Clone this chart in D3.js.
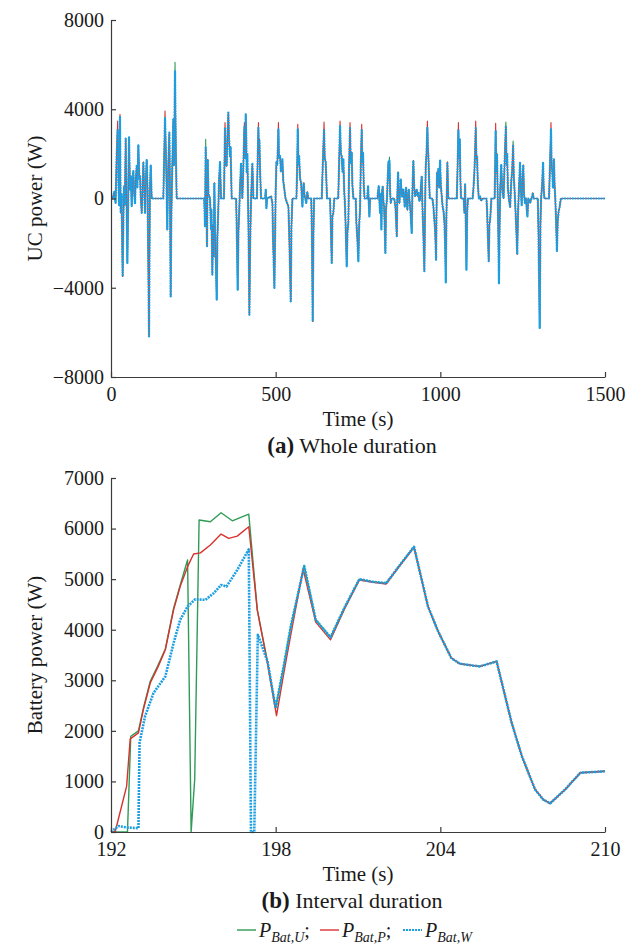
<!DOCTYPE html>
<html>
<head>
<meta charset="utf-8">
<script src="https://cdn.jsdelivr.net/npm/d3@7"></script>
<style>
  html, body { margin: 0; padding: 0; background: #fff; }
  svg { display: block; }
  text { font-family: "Liberation Serif", "Times New Roman", serif; fill: #1a1a1a; }
</style>
</head>
<body>
<svg id="fig" width="642" height="948"></svg>
<script>
// ---------- (a) UC power over the whole drive cycle ----------
const ucTime = [
  0, 5, 10, 14, 17, 20.2, 23, 25, 27.3, 29.4,
  32, 35.4, 38, 39.6, 42, 44.6, 47, 49.7, 52, 54.7,
  57.8, 60, 62.8, 65, 67.9, 70, 73, 75, 78, 80,
  83.1, 86, 88.2, 90, 93.2, 96, 98.3, 100, 103.4, 106,
  108.4, 111, 115.5, 118, 120.6, 123.6, 158.9, 161, 164, 166,
  168, 171, 173, 175, 177.2, 179, 181.2, 183, 186.3, 188,
  189.3, 191, 192.5, 194.4, 197, 199.4, 283, 285.5, 287.5, 289,
  291.5, 293.6, 296, 300.7, 303.7, 305, 307.8, 310, 312, 313.9,
  316, 318, 321, 323, 326.1, 328, 331.1, 334.2, 343, 346.2,
  348, 351.3, 353, 356.4, 358, 361.4, 363, 366.5, 380, 382,
  384.7, 387, 389.8, 392, 394.8, 398.9, 402, 405, 407, 409.1,
  411, 412.1, 414, 417.2, 418.5, 420.2, 422.5, 425.3, 427, 429.3,
  432.4, 443, 445, 447.6, 449, 450.6, 452.5, 455.7, 468, 469.9,
  471.9, 474, 486.1, 490.2, 492, 496.2, 498.5, 500, 502.3, 505,
  508.4, 510, 513.4, 516, 520.5, 523, 526.6, 530, 538.7, 541,
  545.8, 548, 550.9, 563, 565, 567.1, 569, 571.2, 574, 577.3,
  579, 581.3, 583, 585.4, 587, 590, 593, 596, 599, 608,
  610, 612.5, 614.5, 616.6, 640, 643, 646.9, 649, 651.9, 654,
  656, 665, 667.5, 670.2, 672.5, 675.2, 678, 690, 693, 695.5,
  698, 700.5, 703, 705.6, 708, 710.7, 713, 715.7, 718, 720.8,
  723, 725.8, 728, 730.9, 733, 736, 743, 745.1, 748, 751.2,
  753.5, 756.2, 758.5, 761.3, 763, 765.3, 767.5, 770, 778, 780.6,
  784.6, 787, 809, 811, 813, 815, 817, 819, 821.1, 823,
  825.1, 827, 829.2, 831, 833.2, 835, 838, 840, 842.4, 844,
  845.4, 847.5, 849.5, 852, 860, 863.6, 865.5, 867.7, 869.5, 871.7,
  873.5, 875.8, 877.5, 879.8, 882, 883.9, 885.5, 887.9, 890, 892,
  894, 896, 898, 900.1, 902, 904.2, 906, 908.1, 910, 913.1,
  915.5, 918.2, 920.5, 923.3, 925.5, 928.3, 931, 933.4, 936, 938.5,
  941, 943.5, 946, 948.6, 951.6, 953.5, 955.7, 958, 960.7, 962.3,
  963.8, 966, 968, 976, 979, 981.5, 984.1, 987.1, 988.5, 990.1,
  992, 994.2, 996.5, 999.3, 1001.5, 1004.3, 1007, 1010, 1012.4, 1014.5,
  1016.5, 1018.5, 1021.5, 1024, 1050, 1052.5, 1054.9, 1056.5, 1058.9, 1061,
  1063, 1071, 1073.2, 1075.2, 1077, 1079.3, 1081.5, 1084, 1098, 1100.3,
  1103.4, 1105.5, 1107.4, 1109.5, 1111.5, 1114, 1117, 1120.6, 1124, 1128,
  1140, 1141.9, 1144, 1146.9, 1149, 1152, 1155, 1165, 1166.5, 1168,
  1170, 1172, 1174, 1176, 1178, 1180, 1182, 1185, 1188, 1192,
  1195, 1199, 1201, 1203, 1205, 1208, 1212, 1214, 1216, 1218,
  1221, 1223, 1226, 1229, 1231, 1233.5, 1236, 1239, 1242, 1245,
  1247, 1249, 1252, 1254, 1257, 1260, 1262.5, 1264.5, 1267, 1273,
  1276, 1279, 1281, 1283, 1296, 1298, 1301.7, 1304, 1306, 1309,
  1312, 1314, 1316, 1330, 1333, 1336, 1338, 1340, 1342, 1345,
  1347, 1349, 1351, 1354, 1356.5, 1359, 1362, 1366, 1500
];

// UC power with the W-strategy (W)
const ucW = [
  0, 0, 300, -200, 1800, 3100, 500, -300, 3650, -643,
  200, -3490, -600, 550, -300, 2680, 200, -2890, -400, 2740,
  400, 1000, -340, 600, 1230, 300, -210, 800, 1450, 500,
  2380, 900, 1000, 200, -640, 500, 1630, 800, -640, 900,
  1720, 400, -6180, 300, 1480, 0, 0, 1500, 3600, 2500,
  1200, -1390, 800, 2000, 2950, 500, -4390, -1000, 1600, 2600,
  3550, 1500, 3000, 5700, 2000, 0, 0, -1240, 2280, 800,
  -2140, 1750, 200, 0, -1390, -500, -3410, -1200, -2600, 700,
  -1500, -2590, -4530, -1800, -360, 800, 1630, 0, 0, 3170,
  1500, 1450, 2500, 3850, 2800, 1900, 2300, 0, 0, -1500,
  -4090, -1500, -360, 600, 1550, 0, 1500, 3200, 1800, 3770,
  2500, 1180, 2000, -1060, -2500, -5210, -2000, -60, 700, 1550,
  0, 0, 1500, 3170, 2000, 2650, 1300, 0, 0, 390,
  -430, 0, 90, -210, -1800, -4010, -1500, 300, 1630, 1500,
  3100, 1800, 1900, 1200, 1750, 800, 390, 0, -360, -1500,
  -4610, -1200, 0, 0, 1200, 3100, 1500, 1900, 900, 700,
  200, -360, 300, 700, 200, 0, -200, 300, 0, 0,
  -1500, -5510, -1800, 0, 0, 1500, 3100, 1800, 1630, 800,
  0, 0, -1200, -2890, -800, -640, 0, 0, 1800, 3250,
  2000, 1900, 1200, 1750, 400, -360, -1500, -3040, -1500, -1060,
  1500, 3150, 1600, 2050, 600, 0, 0, -1060, -1800, -2810,
  -1200, -510, 1500, 3100, 1600, 2050, 600, 0, 0, 550,
  -800, 0, 0, 300, 550, -100, -640, 200, -1390, 300,
  550, -100, -360, -1200, -2440, -500, 0, 800, 1630, 900,
  1700, 300, -210, 0, 0, -360, -900, -1690, 200, 1180,
  300, -210, 300, 850, 200, 90, 400, 390, 0, -360,
  200, 480, -100, -510, 200, 390, 0, -360, -700, -1540,
  500, 1700, 500, 90, 300, 390, 100, 240, -100, -60,
  500, 1000, -500, -1690, -3260, -500, 1450, 2000, 3170, 2200,
  1900, 800, 0, 0, -360, -900, -1390, -2740, -500, 1180,
  600, 1330, 500, 1700, 600, 90, -360, -600, -1060, -2000,
  -3760, -800, 1630, 0, 0, 1500, 3100, 1800, 2650, 800,
  0, 0, -640, 630, -800, -3190, -600, 0, 0, 390,
  1180, 2000, 3150, 1800, 1900, 600, 0, 90, -100, 0,
  0, -510, -1500, -2810, -1200, -800, 0, 0, 1500, 3050,
  1200, 2000, 300, -1500, -3800, -1200, 500, 1500, 400, 0,
  1500, 3250, 1500, 2000, 500, 0, -400, 300, 900, 1200,
  2400, 1000, 200, -800, -1500, -2500, -600, 500, 1600, 300,
  -300, 800, 1500, 200, -200, 0, -500, -800, 0, -200,
  0, 100, 250, 0, 0, -1500, -5800, -1200, 0, 600,
  1600, 400, 0, 0, 1500, 3100, 1500, 1200, 500, 1750,
  600, 0, -800, -2350, -1000, -600, -400, 0, 0
];

// UC power with the P-strategy (P)
const ucP = [
  0, 0, 300, -200, 1800, 3470, 500, -300, 3770, -643,
  200, -3490, -600, 550, -300, 2680, 200, -2890, -400, 2740,
  400, 1000, -340, 600, 1230, 300, -210, 800, 1450, 500,
  2380, 900, 1000, 200, -640, 500, 1630, 800, -640, 900,
  1720, 400, -6180, 300, 1480, 0, 0, 1500, 3920, 2500,
  1200, -1390, 800, 2000, 2950, 500, -4390, -1000, 1600, 2600,
  3550, 1500, 3000, 5650, 2000, 0, 0, -1240, 2280, 800,
  -2140, 1750, 200, 0, -1390, -500, -3410, -1200, -2600, 700,
  -1500, -2590, -4530, -1800, -360, 800, 1630, 0, 0, 3400,
  1500, 1450, 2500, 3850, 2800, 1900, 2300, 0, 0, -1500,
  -4090, -1500, -360, 600, 1550, 0, 1500, 3400, 1800, 3770,
  2500, 1180, 2000, -1060, -2500, -5210, -2000, -60, 700, 1550,
  0, 0, 1500, 3400, 2000, 2650, 1300, 0, 0, 390,
  -430, 0, 90, -210, -1800, -4010, -1500, 300, 1630, 1500,
  3400, 1800, 1900, 1200, 1750, 800, 390, 0, -360, -1500,
  -4610, -1200, 0, 0, 1200, 3320, 1500, 1900, 900, 700,
  200, -360, 300, 700, 200, 0, -200, 300, 0, 0,
  -1500, -5510, -1800, 0, 0, 1500, 3430, 1800, 1630, 800,
  0, 0, -1200, -2890, -800, -640, 0, 0, 1800, 3470,
  2000, 1900, 1200, 1750, 400, -360, -1500, -3040, -1500, -1060,
  1500, 3400, 1600, 2050, 600, 0, 0, -1060, -1800, -2810,
  -1200, -510, 1500, 3320, 1600, 2050, 600, 0, 0, 550,
  -800, 0, 0, 300, 550, -100, -640, 200, -1390, 300,
  550, -100, -360, -1200, -2440, -500, 0, 800, 1630, 900,
  1700, 300, -210, 0, 0, -360, -900, -1690, 200, 1180,
  300, -210, 300, 850, 200, 90, 400, 390, 0, -360,
  200, 480, -100, -510, 200, 390, 0, -360, -700, -1540,
  500, 1700, 500, 90, 300, 390, 100, 240, -100, -60,
  500, 1000, -500, -1690, -3260, -500, 1450, 2000, 3470, 2200,
  1900, 800, 0, 0, -360, -900, -1390, -2740, -500, 1180,
  600, 1330, 500, 1700, 600, 90, -360, -600, -1060, -2000,
  -3760, -800, 1630, 0, 0, 1500, 3400, 1800, 2650, 800,
  0, 0, -640, 630, -800, -3190, -600, 0, 0, 390,
  1180, 2000, 3470, 1800, 1900, 600, 0, 90, -100, 0,
  0, -510, -1500, -2810, -1200, -800, 0, 0, 1500, 3370,
  1200, 2000, 300, -1500, -3800, -1200, 500, 1500, 400, 0,
  1500, 3250, 1500, 2000, 500, 0, -400, 300, 900, 1200,
  2400, 1000, 200, -800, -1500, -2500, -600, 500, 1600, 300,
  -300, 800, 1500, 200, -200, 0, -500, -800, 0, -200,
  0, 100, 250, 0, 0, -1500, -5800, -1200, 0, 600,
  1600, 400, 0, 0, 1500, 3400, 1500, 1200, 500, 1750,
  600, 0, -800, -2350, -1000, -600, -400, 0, 0
];

// UC power with the U-strategy (U)
const ucU = [
  0, 0, 300, -200, 1800, 3100, 500, -300, 3650, -643,
  200, -3490, -600, 550, -300, 2680, 200, -2890, -400, 2740,
  400, 1000, -340, 600, 1230, 300, -210, 800, 1450, 500,
  2380, 900, 1000, 200, -640, 500, 1630, 800, -640, 900,
  1720, 400, -6180, 300, 1480, 0, 0, 1500, 3600, 2500,
  1200, -1390, 800, 2000, 2950, 500, -4390, -1000, 1600, 2600,
  3550, 1500, 3000, 6100, 2000, 0, 0, -1240, 2650, 800,
  -2140, 1750, 200, 0, -1390, -500, -3410, -1200, -2600, 700,
  -1500, -2590, -4530, -1800, -360, 800, 1630, 0, 0, 3170,
  1500, 1450, 2500, 3850, 2800, 1900, 2300, 0, 0, -1500,
  -4090, -1500, -360, 600, 1550, 0, 1500, 3200, 1800, 3770,
  2500, 1180, 2000, -1060, -2500, -5210, -2000, -60, 700, 1550,
  0, 0, 1500, 3170, 2000, 2650, 1300, 0, 0, 390,
  -430, 0, 90, -210, -1800, -4010, -1500, 300, 1630, 1500,
  3100, 1800, 1900, 1200, 1750, 800, 390, 0, -360, -1500,
  -4610, -1200, 0, 0, 1200, 3100, 1500, 1900, 900, 700,
  200, -360, 300, 700, 200, 0, -200, 300, 0, 0,
  -1500, -5510, -1800, 0, 0, 1500, 3100, 1800, 1630, 800,
  0, 0, -1200, -2890, -800, -640, 0, 0, 1800, 3250,
  2000, 1900, 1200, 1750, 400, -360, -1500, -3040, -1500, -1060,
  1500, 3150, 1600, 2050, 600, 0, 0, -1060, -1800, -2810,
  -1200, -510, 1500, 3100, 1600, 2050, 600, 0, 0, 550,
  -800, 0, 0, 300, 550, -100, -640, 200, -1390, 300,
  550, -100, -360, -1200, -2440, -500, 0, 800, 1630, 900,
  1860, 300, -210, 0, 0, -360, -900, -1690, 200, 1180,
  300, -210, 300, 850, 200, 90, 400, 390, 0, -360,
  200, 480, -100, -510, 200, 390, 0, -360, -700, -1540,
  500, 1700, 500, 90, 300, 390, 100, 240, -100, -60,
  500, 1000, -500, -1690, -3260, -500, 1450, 2000, 3170, 2200,
  1900, 800, 0, 0, -360, -900, -1390, -2740, -500, 1180,
  600, 1330, 500, 1700, 600, 90, -360, -600, -1060, -2000,
  -3760, -800, 1630, 0, 0, 1500, 3100, 1800, 2650, 800,
  0, 0, -640, 630, -800, -3190, -600, 0, 0, 390,
  1180, 2000, 3150, 1800, 1900, 600, 0, 90, -100, 0,
  0, -510, -1500, -2810, -1200, -800, 0, 0, 1500, 3050,
  1200, 2000, 300, -1500, -3800, -1200, 500, 1500, 400, 0,
  1500, 3430, 1500, 2000, 500, 0, -400, 300, 900, 1200,
  2580, 1000, 200, -800, -1500, -2500, -600, 500, 1600, 300,
  -300, 800, 1500, 200, -200, 0, -500, -800, 0, -200,
  0, 100, 250, 0, 0, -1500, -5800, -1200, 0, 600,
  1600, 400, 0, 0, 1500, 3100, 1500, 1200, 500, 1750,
  600, 0, -800, -2350, -1000, -600, -400, 0, 0
];

const ucXTicks = [0, 500, 1000, 1500];
const ucYTicks = [-8000, -4000, 0, 4000, 8000];

// ---------- (b) battery power, 192-210 s ----------
const batTimeU = [192, 192.6, 192.72, 193.0, 193.18, 193.43, 193.7, 193.98, 194.28, 194.52,
  194.79, 194.92, 195.05, 195.21, 195.62, 196.01, 196.42, 197.02, 197.33, 197.7,
  198.0, 198.3, 198.55, 199.04, 199.46, 200.0, 200.5, 201.05, 201.5, 202.03,
  202.5, 203.04, 203.55, 203.92, 204.4, 204.71, 205.07, 205.44, 206.05, 206.6,
  206.97, 207.45, 207.75, 208.0, 208.55, 209.1, 210];
const batU = [0, 0, 1894, 2000, 2450, 2980, 3280, 3620, 4420, 4880,
  5379, 0, 1040, 6170, 6135, 6312, 6154, 6286, 4392, 3380,
  2450, 3300, 4063, 5260, 4195, 3850, 4430, 5000, 4950, 4920,
  5260, 5640, 4460, 3966, 3440, 3327, 3300, 3274, 3373, 2158,
  1500, 842, 640, 566, 842, 1171, 1200];

const batTimeP = [192, 192.15, 192.57, 192.7, 193.0, 193.18, 193.43, 193.7, 193.98, 194.28,
  194.52, 194.79, 195.01, 195.26, 195.62, 196.01, 196.29, 196.6, 197.02, 197.33,
  197.7, 198.03, 198.3, 198.55, 199.0, 199.46, 200.0, 200.5, 201.05, 201.5,
  202.03, 202.5, 203.04, 203.55, 203.92, 204.4, 204.71, 205.07, 205.44, 206.05,
  206.6, 206.97, 207.45, 207.75, 208.0, 208.55, 209.1, 210];
const batP = [0, 0, 907, 1842, 1960, 2420, 2946, 3250, 3604, 4392,
  4852, 5247, 5497, 5520, 5675, 5892, 5806, 5850, 6036, 4392,
  3341, 2302, 3150, 3900, 5200, 4150, 3800, 4400, 4984, 4940,
  4905, 5250, 5629, 4458, 3966, 3440, 3327, 3300, 3274, 3373,
  2158, 1500, 842, 640, 566, 842, 1171, 1200];

const batTimeW = [192, 192.27, 192.57, 193.0, 193.04, 193.24, 193.55, 193.98, 194.28, 194.52,
  194.79, 195.07, 195.44, 195.74, 196.01, 196.21, 196.6, 197.02, 197.1, 197.22,
  197.35, 197.7, 198.0, 198.3, 198.55, 199.04, 199.46, 200.0, 200.5, 201.05,
  201.5, 202.03, 202.5, 203.04, 203.55, 203.92, 204.4, 204.71, 205.07, 205.44,
  206.05, 206.6, 206.97, 207.45, 207.75, 208.0, 208.55, 209.1, 210];
const batW = [0, 118, 90, 75, 1763, 2288, 2749, 3077, 3735, 4195,
  4458, 4603, 4590, 4722, 4885, 4855, 5181, 5590, 0, 0,
  3900, 3380, 2450, 3300, 4063, 5260, 4195, 3850, 4430, 5000,
  4950, 4920, 5260, 5640, 4460, 3966, 3440, 3327, 3300, 3274,
  3373, 2158, 1500, 842, 640, 566, 842, 1171, 1200];

const batXTicks = [192, 198, 204, 210];
const batYTicks = [0, 1000, 2000, 3000, 4000, 5000, 6000, 7000];

// ---------- drawing ----------
const svg = d3.select('#fig');
svg.append('rect').attr('width', 642).attr('height', 948).attr('fill', '#fff');

const colU = '#2f9b55', colP = '#d8322e', colW = '#1c9fe2';

function drawPanel(cfg) {
  const x = d3.scaleLinear().domain(cfg.xDomain).range([111, 605]);
  const y = d3.scaleLinear().domain(cfg.yDomain).range([cfg.bottom, cfg.top]);
  const g = svg.append('g');
  const line = d3.line().x(d => x(d[0])).y(d => y(d[1]));

  cfg.series.forEach(s => {
    const pts = s.t.map((t, i) => [t, s.v[i]]);
    g.append('path')
      .attr('d', line(pts))
      .attr('fill', 'none')
      .attr('stroke', s.color)
      .attr('stroke-width', s.width)
      .attr('stroke-linejoin', 'round')
      .attr('stroke-dasharray', s.dash || null);
  });

  const xAxis = g.append('g')
    .attr('transform', `translate(0,${cfg.bottom})`)
    .call(d3.axisBottom(x).tickValues(cfg.xTicks).tickFormat(d3.format('d'))
      .tickSize(-5).tickSizeOuter(0).tickPadding(10));
  const yAxis = g.append('g')
    .attr('transform', 'translate(111,0)')
    .call(d3.axisLeft(y).tickValues(cfg.yTicks).tickFormat(d3.format('d'))
      .tickSize(-5).tickSizeOuter(0).tickPadding(7));
  [xAxis, yAxis].forEach(a => {
    a.selectAll('path, line').attr('stroke', '#3a3a3a').attr('stroke-width', 1.2);
    a.selectAll('text').attr('font-size', 20)
      .attr('font-family', '"Liberation Serif", "Times New Roman", serif')
      .attr('fill', '#1a1a1a');
  });

  g.append('text')
    .attr('transform', `translate(42,${(cfg.top + cfg.bottom) / 2}) rotate(-90)`)
    .attr('text-anchor', 'middle').attr('font-size', 21)
    .text(cfg.yLabel);
  g.append('text')
    .attr('x', 358).attr('y', cfg.bottom + 49)
    .attr('text-anchor', 'middle').attr('font-size', 21)
    .text('Time (s)');
  const cap = g.append('text')
    .attr('x', 352).attr('y', cfg.bottom + 76)
    .attr('text-anchor', 'middle').attr('font-size', 22);
  cap.append('tspan').attr('font-weight', 'bold').attr('font-size', 23).text(cfg.tag);
  cap.append('tspan').text(' ' + cfg.caption);
}

drawPanel({
  xDomain: [0, 1500], yDomain: [-8000, 8000], top: 20, bottom: 377,
  xTicks: ucXTicks, yTicks: ucYTicks, yLabel: 'UC power (W)',
  tag: '(a)', caption: 'Whole duration',
  series: [
    { t: ucTime, v: ucU, color: colU, width: 1.1 },
    { t: ucTime, v: ucP, color: colP, width: 1.1 },
    { t: ucTime, v: ucW, color: colW, width: 2.2, dash: '1.8,0.8' }
  ]
});

drawPanel({
  xDomain: [192, 210], yDomain: [0, 7000], top: 478, bottom: 832,
  xTicks: batXTicks, yTicks: batYTicks, yLabel: 'Battery power (W)',
  tag: '(b)', caption: 'Interval duration',
  series: [
    { t: batTimeU, v: batU, color: colU, width: 1.4 },
    { t: batTimeP, v: batP, color: colP, width: 1.4 },
    { t: batTimeW, v: batW, color: colW, width: 2.6, dash: '2,1' }
  ]
});

// legend
const legendItems = [
  { color: colU, sub: 'Bat,U', x: 237, dash: null, w: 1.4 },
  { color: colP, sub: 'Bat,P', x: 320, dash: null, w: 1.4 },
  { color: colW, sub: 'Bat,W', x: 403, dash: '2,1', w: 2.2 }
];
const lg = svg.append('g');
legendItems.forEach((it, i) => {
  lg.append('line')
    .attr('x1', it.x).attr('x2', it.x + 19)
    .attr('y1', 930).attr('y2', 930)
    .attr('stroke', it.color).attr('stroke-width', it.w)
    .attr('stroke-dasharray', it.dash);
  const t = lg.append('text').attr('x', it.x + 22).attr('y', 937).attr('font-size', 20);
  t.append('tspan').attr('font-style', 'italic').text('P');
  t.append('tspan').attr('font-style', 'italic').attr('font-size', 14)
    .attr('dy', 5).text(it.sub);
  if (i < legendItems.length - 1) {
    t.append('tspan').attr('dy', -5).attr('font-size', 20).text(';');
  }
});
</script>
</body>
</html>
